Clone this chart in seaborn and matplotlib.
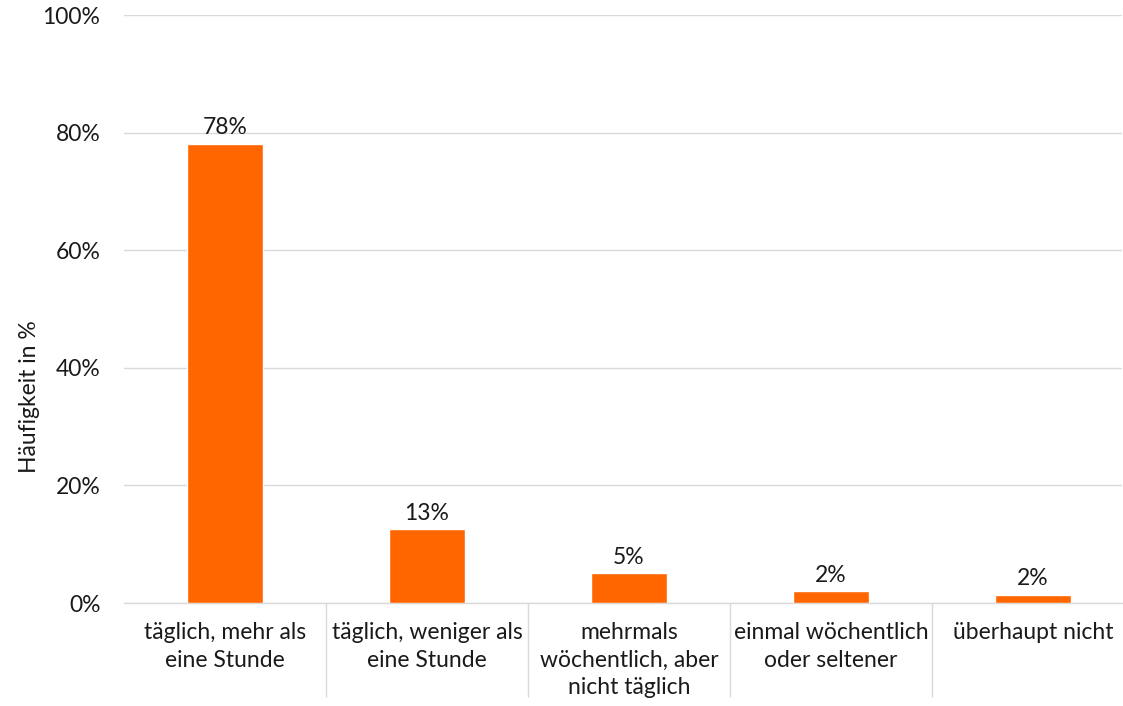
import matplotlib
matplotlib.use("Agg")
import matplotlib.pyplot as plt
import seaborn as sns
import pandas as pd
from matplotlib.ticker import PercentFormatter, FixedLocator

# Data
categories = ["täglich, mehr als\neine Stunde", "täglich, weniger als\neine Stunde",
              "mehrmals\nwöchentlich, aber\nnicht täglich", "einmal wöchentlich\noder seltener",
              "überhaupt nicht"]
values = [78.1, 12.6, 5.1, 2.0, 1.4]
value_labels = ["78%", "13%", "5%", "2%", "2%"]

df = pd.DataFrame({"kategorie": categories, "anteil": values})

sns.set_theme(style="white")
plt.rcParams['font.family'] = ['Lato', 'DejaVu Sans']

fs = 16.5
fig = plt.figure(figsize=(11.23, 7.06), dpi=100)
ax = fig.add_axes([124 / 1123, 103 / 706, 998 / 1123, 588 / 706])

sns.barplot(data=df, x="kategorie", y="anteil", color="#FF6600", width=0.38,
            saturation=1, ax=ax, zorder=3)

# value labels
for i, lab in enumerate(value_labels):
    ax.text(i, values[i] + 0.9, lab, ha="center", va="bottom", fontsize=fs, color="#1a1a1a")

ax.set_ylim(0, 100)
ax.set_xlim(-0.5, 4.44)
ax.yaxis.set_major_formatter(PercentFormatter(decimals=0))
ax.set_yticks([0, 20, 40, 60, 80, 100])
ax.grid(axis="y", color="#d9d9d9", linewidth=1, zorder=0)
for s in ["top", "right", "left"]:
    ax.spines[s].set_visible(False)
ax.spines["bottom"].set_color("#d9d9d9")
ax.spines["bottom"].set_linewidth(1)

ax.set_xlabel("")
ax.set_ylabel("")
fig.text(30 / 1123, 309 / 706, "Häufigkeit in %", rotation=90, ha="center", va="center",
         fontsize=fs, color="#1a1a1a")
ax.tick_params(axis="y", labelsize=fs, colors="#1a1a1a", length=0, pad=17)
ax.tick_params(axis="x", labelsize=fs, colors="#1a1a1a", length=0, pad=14)
for t in ax.get_xticklabels():
    t.set_linespacing(1.38)

# separator ticks between categories
ax.xaxis.set_minor_locator(FixedLocator([0.5, 1.5, 2.5, 3.5]))
ax.tick_params(axis="x", which="minor", bottom=True, length=68, color="#d9d9d9",
               width=1, direction="out")

plt.savefig("out.png", dpi=100)
